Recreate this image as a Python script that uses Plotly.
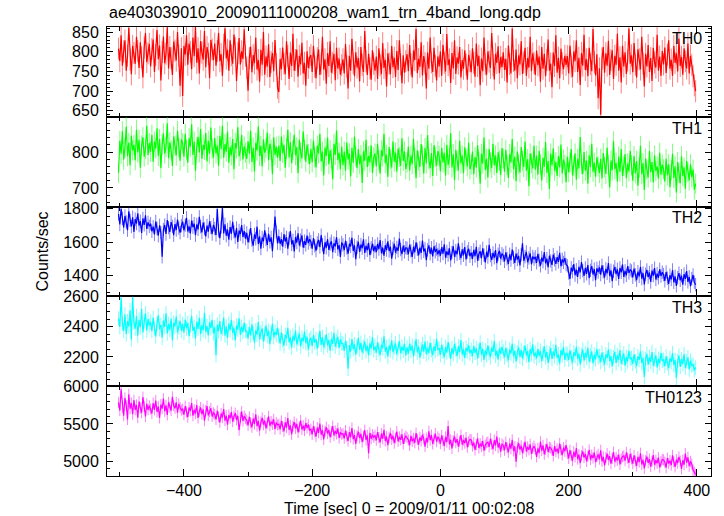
import plotly.graph_objects as go
from plotly.subplots import make_subplots

title_text = "ae403039010_20090111000208_wam1_trn_4band_long.qdp"
x_title = "Time [sec] 0 = 2009/01/11 00:02:08"
y_title = "Counts/sec"
band_names = ["TH0", "TH1", "TH2", "TH3", "TH0123"]
t_start = -502
t_step = 2

th0 = [808, 776, 842, 765, 801, 829, 752, 790, 861, 780, 743, 815, 797, 770, 838, 802, 759, 824, 786, 735, 811, 848, 774, 796, 820,
       763, 807, 831, 749, 792, 855, 781, 816, 727, 800, 839, 771, 795, 862, 758, 812, 784, 741, 826, 803, 778, 850, 790, 714, 809,
       688, 815, 793, 842, 767, 821, 800, 756, 836, 789, 864, 772, 809, 745, 827, 798, 780, 853, 761, 812, 795, 733, 830, 806, 779,
       821, 765, 802, 848, 776, 794, 739, 818, 860, 783, 805, 752, 829, 791, 770, 844, 810, 726, 797, 835, 768, 801, 782, 857, 790,
       760, 701, 784, 813, 748, 792, 771, 836, 755, 779, 724, 805, 767, 850, 742, 788, 763, 819, 736, 774, 797, 751, 830, 768, 709,
       698, 782, 756, 811, 770, 743, 827, 789, 731, 798, 764, 846, 752, 779, 806, 737, 790, 768, 823, 745, 772, 714, 801, 759, 785,
       792, 749, 815, 762, 733, 784, 806, 741, 770, 838, 755, 781, 719, 797, 764, 827, 747, 772, 795, 728, 810, 758, 783, 742, 766,
       781, 745, 820, 763, 707, 790, 752, 833, 771, 738, 799, 760, 784, 725, 812, 767, 749, 853, 776, 741, 795, 758, 729, 804, 770,
       752, 788, 731, 809, 766, 744, 822, 759, 780, 712, 796, 770, 743, 815, 761, 785, 736, 802, 754, 829, 768, 720, 791, 747, 776,
       794, 751, 817, 768, 735, 803, 779, 858, 746, 782, 762, 824, 740, 789, 771, 707, 798, 757, 836, 773, 749, 810, 765, 727, 788,
       763, 801, 739, 818, 772, 750, 845, 766, 781, 721, 797, 758, 829, 744, 786, 770, 812, 735, 779, 757, 804, 768, 729, 792, 776,
       748, 809, 772, 737, 821, 764, 790, 715, 783, 751, 836, 768, 742, 801, 775, 759, 848, 766, 730, 795, 772, 814, 746, 787, 761,
       799, 754, 782, 722, 816, 769, 745, 859, 777, 752, 806, 733, 791, 768, 827, 744, 773, 810, 739, 784, 760, 838, 751, 796, 772,
       741, 803, 766, 788, 724, 812, 757, 795, 738, 779, 831, 752, 770, 710, 798, 764, 842, 747, 785, 733, 808, 771, 756, 790, 767,
       789, 745, 816, 762, 737, 801, 776, 829, 749, 785, 716, 797, 765, 843, 754, 781, 738, 810, 769, 751, 858, 773, 740, 794, 682,
       758, 640, 783, 812, 747, 796, 765, 828, 741, 779, 804, 731, 790, 767, 846, 752, 786, 722, 815, 763, 799, 744, 778, 859, 770,
       791, 748, 822, 767, 735, 806, 781, 755, 838, 770, 712, 795, 763, 817, 749, 784, 726, 810, 773, 760, 843, 752, 788, 739, 802,
       768, 811, 746, 793, 829, 757, 780, 739, 815, 772, 796, 750, 834, 764, 787, 742, 809, 776, 758, 821, 745, 790, 767, 738, 715,
       700]

th1 = [742, 831, 795, 858, 779, 812, 870, 788, 826, 763, 845, 804, 820, 777, 862, 799, 834, 756, 818, 841, 787, 809, 873, 792, 825,
       801, 848, 773, 829, 810, 866, 789, 836, 755, 821, 852, 796, 814, 880, 783, 827, 805, 761, 843, 818, 790, 859, 812, 776, 835,
       824, 787, 851, 806, 770, 838, 815, 877, 792, 829, 748, 813, 842, 799, 864, 781, 820, 806, 853, 774, 831, 795, 868, 809, 785,
       839, 796, 818, 762, 845, 808, 873, 784, 822, 801, 857, 770, 814, 791, 836, 752, 825, 810, 869, 788, 803, 847, 779, 816, 798,
       781, 830, 795, 859, 772, 812, 746, 826, 804, 871, 789, 817, 760, 835, 798, 811, 854, 777, 823, 806, 738, 841, 792, 815, 784,
       818, 775, 843, 797, 820, 756, 810, 862, 785, 827, 769, 805, 848, 791, 813, 741, 834, 799, 782, 857, 806, 773, 821, 795, 766,
       809, 771, 832, 785, 757, 818, 796, 850, 774, 801, 735, 812, 789, 840, 766, 805, 781, 724, 823, 792, 860, 777, 798, 752, 815,
       763, 801, 748, 826, 779, 796, 732, 812, 770, 843, 787, 755, 808, 766, 791, 714, 802, 776, 834, 758, 789, 771, 819, 742, 785,
       796, 760, 823, 777, 740, 805, 788, 851, 769, 792, 731, 814, 780, 757, 829, 773, 798, 745, 810, 786, 762, 838, 775, 801, 752,
       771, 815, 748, 790, 766, 836, 783, 727, 804, 776, 758, 822, 791, 740, 811, 768, 847, 779, 755, 797, 733, 819, 786, 762, 802,
       789, 746, 812, 771, 798, 735, 820, 764, 783, 852, 757, 794, 722, 806, 775, 749, 831, 768, 790, 741, 813, 779, 760, 826, 752,
       765, 801, 738, 786, 757, 819, 773, 712, 795, 768, 840, 750, 782, 729, 808, 771, 755, 823, 763, 790, 742, 799, 776, 736, 811,
       782, 745, 806, 763, 728, 794, 771, 836, 752, 787, 719, 801, 766, 743, 814, 775, 758, 829, 748, 780, 705, 796, 769, 754, 817,
       751, 790, 737, 803, 766, 721, 784, 759, 828, 742, 775, 697, 796, 763, 810, 748, 772, 733, 789, 757, 821, 740, 779, 764, 716,
       787, 744, 771, 808, 735, 762, 796, 723, 781, 754, 842, 766, 739, 800, 748, 776, 712, 791, 758, 823, 745, 770, 731, 785, 760,
       742, 781, 726, 797, 758, 739, 812, 764, 701, 776, 749, 830, 752, 770, 718, 787, 745, 808, 733, 761, 794, 727, 768, 746, 803,
       763, 720, 789, 741, 775, 706, 756, 817, 738, 769, 694, 782, 751, 729, 803, 744, 772, 715, 790, 747, 760, 726, 798, 737, 765,
       752, 718, 781, 735, 766, 702, 749, 795, 728, 760, 687, 772, 741, 713, 788, 733, 757, 698, 775, 744, 721, 766, 730, 751, 695,
       712]

th2 = [1768, 1705, 1799, 1742, 1688, 1756, 1720, 1671, 1784, 1730, 1693, 1748, 1661, 1737, 1710, 1772, 1698, 1725, 1655, 1741, 1703, 1760, 1679, 1718, 1694,
       1710, 1664, 1692, 1646, 1723, 1681, 1638, 1700, 1657, 1512, 1675, 1702, 1648, 1731, 1686, 1660, 1719, 1694, 1641, 1707, 1672, 1735, 1683, 1656, 1698,
       1722, 1670, 1701, 1745, 1663, 1694, 1652, 1728, 1689, 1710, 1641, 1706, 1676, 1751, 1692, 1658, 1717, 1680, 1634, 1699, 1662, 1724, 1687, 1648, 1703,
       1681, 1642, 1798, 1667, 1623, 1690, 1805, 1652, 1706, 1638, 1675, 1614, 1689, 1650, 1721, 1661, 1628, 1684, 1600, 1669, 1647, 1702, 1631, 1666, 1620,
       1655, 1598, 1637, 1683, 1612, 1579, 1646, 1620, 1692, 1588, 1634, 1561, 1627, 1604, 1670, 1615, 1583, 1649, 1601, 1628, 1546, 1640, 1752, 1661, 1592,
       1635, 1590, 1618, 1572, 1647, 1603, 1628, 1560, 1621, 1666, 1586, 1611, 1544, 1630, 1597, 1652, 1579, 1612, 1640, 1566, 1605, 1583, 1638, 1594, 1617,
       1602, 1561, 1624, 1578, 1549, 1595, 1613, 1570, 1641, 1584, 1527, 1599, 1566, 1617, 1553, 1588, 1605, 1540, 1593, 1574, 1629, 1556, 1582, 1511, 1597,
       1583, 1552, 1608, 1565, 1531, 1589, 1574, 1626, 1547, 1580, 1498, 1569, 1602, 1541, 1585, 1563, 1616, 1535, 1577, 1551, 1595, 1522, 1566, 1590, 1545,
       1576, 1540, 1589, 1558, 1612, 1533, 1567, 1519, 1581, 1552, 1604, 1546, 1573, 1501, 1562, 1590, 1537, 1568, 1547, 1621, 1555, 1528, 1579, 1541, 1566,
       1563, 1527, 1584, 1548, 1511, 1572, 1539, 1598, 1556, 1520, 1567, 1535, 1609, 1544, 1561, 1492, 1553, 1580, 1530, 1566, 1514, 1575, 1542, 1558, 1526,
       1552, 1518, 1569, 1531, 1586, 1507, 1544, 1522, 1563, 1490, 1538, 1575, 1512, 1549, 1527, 1592, 1533, 1504, 1556, 1521, 1570, 1496, 1541, 1560, 1515,
       1537, 1499, 1553, 1516, 1571, 1488, 1529, 1545, 1503, 1562, 1522, 1478, 1541, 1510, 1583, 1519, 1494, 1535, 1506, 1552, 1473, 1527, 1548, 1501, 1531,
       1520, 1484, 1538, 1501, 1469, 1527, 1492, 1555, 1509, 1475, 1531, 1496, 1517, 1460, 1524, 1592, 1488, 1513, 1541, 1479, 1505, 1532, 1467, 1514, 1498,
       1512, 1476, 1529, 1491, 1458, 1507, 1483, 1540, 1472, 1501, 1449, 1518, 1487, 1463, 1525, 1494, 1470, 1509, 1481, 1536, 1455, 1497, 1478, 1504, 1466,
       1458, 1415, 1379, 1447, 1423, 1468, 1402, 1435, 1391, 1452, 1418, 1480, 1429, 1397, 1445, 1410, 1463, 1384, 1431, 1456, 1406, 1438, 1372, 1443, 1421,
       1449, 1405, 1461, 1422, 1388, 1440, 1413, 1475, 1397, 1431, 1366, 1426, 1452, 1408, 1437, 1380, 1445, 1419, 1466, 1392, 1428, 1401, 1456, 1415, 1434,
       1427, 1389, 1441, 1404, 1372, 1423, 1395, 1452, 1381, 1415, 1346, 1408, 1433, 1390, 1418, 1361, 1429, 1399, 1444, 1376, 1411, 1386, 1437, 1397, 1420,
       1405, 1368, 1421, 1384, 1350, 1402, 1376, 1433, 1359, 1395, 1338, 1387, 1414, 1371, 1399, 1345, 1408, 1380, 1426, 1362, 1392, 1336, 1381, 1403, 1360,
       1345]

th3 = [2455, 2398, 2592, 2420, 2372, 2481, 2350, 2436, 2402, 2508, 2315, 2596, 2428, 2387, 2470, 2341, 2445, 2396, 2517, 2362, 2431, 2488, 2375, 2450, 2409,
       2432, 2371, 2458, 2390, 2336, 2421, 2475, 2384, 2412, 2327, 2440, 2398, 2489, 2355, 2417, 2380, 2452, 2310, 2426, 2401, 2467, 2362, 2395, 2438, 2373,
       2418, 2360, 2447, 2389, 2425, 2338, 2406, 2471, 2372, 2399, 2320, 2433, 2385, 2458, 2351, 2410, 2377, 2492, 2366, 2404, 2343, 2429, 2391, 2446, 2357,
       2396, 2212, 2414, 2370, 2437, 2352, 2388, 2461, 2341, 2402, 2325, 2419, 2377, 2446, 2359, 2393, 2310, 2408, 2381, 2455, 2346, 2399, 2365, 2427, 2372,
       2371, 2322, 2398, 2340, 2416, 2358, 2294, 2375, 2347, 2430, 2316, 2363, 2389, 2301, 2352, 2407, 2338, 2372, 2285, 2359, 2420, 2331, 2366, 2344, 2393,
       2338, 2289, 2361, 2310, 2274, 2346, 2321, 2392, 2297, 2330, 2262, 2341, 2306, 2375, 2283, 2319, 2355, 2270, 2327, 2302, 2368, 2291, 2333, 2248, 2312,
       2326, 2271, 2344, 2295, 2318, 2255, 2309, 2372, 2280, 2331, 2264, 2297, 2350, 2276, 2312, 2241, 2320, 2287, 2359, 2268, 2304, 2333, 2259, 2315, 2290,
       2288, 2242, 2307, 2260, 2122, 2279, 2236, 2318, 2252, 2284, 2215, 2270, 2326, 2247, 2293, 2229, 2266, 2302, 2238, 2275, 2211, 2290, 2256, 2331, 2244,
       2270, 2228, 2296, 2249, 2213, 2281, 2257, 2337, 2236, 2265, 2202, 2276, 2244, 2310, 2231, 2262, 2290, 2219, 2253, 2304, 2225, 2268, 2241, 2287, 2210,
       2263, 2222, 2289, 2241, 2275, 2204, 2258, 2316, 2230, 2267, 2196, 2252, 2284, 2235, 2301, 2218, 2259, 2226, 2293, 2245, 2212, 2271, 2238, 2320, 2249,
       2255, 2213, 2280, 2236, 2198, 2265, 2229, 2298, 2241, 2187, 2259, 2220, 2286, 2247, 2205, 2270, 2232, 2311, 2216, 2251, 2193, 2262, 2238, 2279, 2224,
       2248, 2205, 2271, 2228, 2259, 2190, 2239, 2296, 2215, 2253, 2180, 2244, 2212, 2277, 2226, 2199, 2262, 2234, 2305, 2208, 2241, 2183, 2257, 2221, 2266,
       2236, 2197, 2260, 2215, 2178, 2249, 2223, 2288, 2206, 2240, 2171, 2231, 2263, 2201, 2245, 2189, 2227, 2276, 2210, 2238, 2166, 2252, 2218, 2283, 2204,
       2229, 2190, 2252, 2208, 2241, 2173, 2220, 2270, 2196, 2233, 2160, 2224, 2259, 2187, 2236, 2205, 2281, 2193, 2217, 2155, 2246, 2211, 2264, 2181, 2226,
       2218, 2181, 2243, 2199, 2162, 2231, 2206, 2267, 2188, 2222, 2150, 2213, 2249, 2176, 2227, 2195, 2260, 2170, 2209, 2236, 2157, 2215, 2184, 2254, 2198,
       2207, 2166, 2229, 2185, 2150, 2218, 2192, 2251, 2173, 2206, 2137, 2199, 2234, 2161, 2212, 2180, 2246, 2155, 2195, 2223, 2143, 2201, 2170, 2240, 2186,
       2193, 2154, 2217, 2172, 2139, 2205, 2180, 2238, 2160, 2194, 2068, 2187, 2221, 2149, 2199, 2167, 2232, 2142, 2183, 2211, 2131, 2189, 2158, 2227, 2174,
       2181, 2140, 2204, 2159, 2126, 2192, 2166, 2225, 2147, 2181, 2062, 2173, 2208, 2135, 2186, 2153, 2219, 2129, 2170, 2197, 2118, 2176, 2144, 2150, 2112,
       2130]

th0123 = [5790, 5680, 5965, 5720, 5610, 5850, 5745, 5560, 5900, 5705, 5780, 5630, 5820, 5690, 5755, 5585, 5800, 5715, 5650, 5860, 5735, 5600, 5770, 5690, 5745,
          5700, 5640, 5780, 5690, 5815, 5660, 5735, 5580, 5760, 5705, 5840, 5670, 5750, 5620, 5790, 5725, 5680, 5865, 5745, 5710, 5790, 5650, 5770, 5720, 5685,
          5700, 5625, 5740, 5660, 5590, 5720, 5675, 5780, 5610, 5690, 5640, 5755, 5580, 5670, 5720, 5630, 5695, 5545, 5680, 5740, 5615, 5665, 5710, 5600, 5650,
          5630, 5560, 5675, 5595, 5520, 5640, 5585, 5700, 5545, 5610, 5490, 5620, 5575, 5660, 5530, 5600, 5645, 5555, 5610, 5415, 5590, 5665, 5540, 5605, 5570,
          5550, 5480, 5595, 5515, 5455, 5570, 5500, 5630, 5470, 5540, 5410, 5525, 5580, 5490, 5545, 5440, 5515, 5600, 5475, 5530, 5495, 5560, 5430, 5520, 5485,
          5495, 5430, 5540, 5465, 5400, 5520, 5450, 5580, 5420, 5480, 5360, 5470, 5525, 5440, 5500, 5385, 5460, 5545, 5425, 5475, 5410, 5510, 5445, 5490, 5415,
          5430, 5360, 5470, 5395, 5330, 5450, 5380, 5505, 5355, 5415, 5290, 5400, 5455, 5370, 5420, 5320, 5395, 5470, 5345, 5405, 5365, 5440, 5310, 5385, 5360,
          5370, 5305, 5410, 5335, 5270, 5390, 5320, 5445, 5295, 5350, 5230, 5340, 5395, 5310, 5365, 5255, 5335, 5415, 5285, 5345, 5105, 5380, 5300, 5355, 5320,
          5345, 5280, 5390, 5315, 5250, 5370, 5300, 5420, 5270, 5330, 5215, 5320, 5375, 5290, 5340, 5240, 5310, 5395, 5265, 5325, 5285, 5360, 5230, 5305, 5335,
          5315, 5285, 5210, 5340, 5265, 5305, 5245, 5375, 5290, 5220, 5320, 5270, 5355, 5300, 5195, 5310, 5250, 5400, 5280, 5350, 5230, 5295, 5370, 5260, 5325,
          5300, 5235, 5345, 5270, 5205, 5325, 5255, 5470, 5225, 5285, 5170, 5275, 5330, 5245, 5295, 5195, 5265, 5350, 5220, 5280, 5240, 5315, 5185, 5260, 5290,
          5285, 5200, 5250, 5150, 5220, 5305, 5175, 5235, 5195, 5270, 5140, 5215, 5245, 5255, 5190, 5300, 5225, 5160, 5280, 5210, 5330, 5180, 5240, 5125, 5230,
          5210, 5145, 5255, 5180, 5115, 5235, 5165, 5285, 5135, 5195, 4990, 5185, 5240, 5155, 5205, 5105, 5175, 5260, 5130, 5190, 5150, 5225, 5095, 5170, 5200,
          5160, 5055, 5170, 5110, 5260, 5140, 5210, 5090, 5155, 5230, 5120, 5185, 5175, 5145, 5070, 5200, 5125, 5165, 5105, 5235, 5150, 5080, 5180, 5130, 5215,
          5100, 5035, 5145, 5070, 5005, 5125, 5055, 5175, 5025, 5085, 4970, 5075, 5130, 5045, 5095, 4995, 5065, 5150, 5020, 5080, 5040, 5115, 4985, 5060, 5090,
          5025, 5145, 4995, 5055, 4940, 5045, 5100, 5015, 5065, 4965, 5035, 5120, 4990, 5050, 5010, 5085, 4955, 5030, 5060, 5070, 5005, 5115, 5040, 4975, 5095,
          5030, 4965, 5075, 5000, 4935, 5055, 4985, 5105, 4955, 5015, 4900, 5005, 5060, 4975, 5025, 4925, 4995, 5080, 4950, 5010, 4970, 5045, 4915, 4990, 5020,
          5015, 4985, 4910, 5040, 4965, 5005, 4945, 5075, 4990, 4920, 5020, 4970, 5055, 5000, 4895, 5010, 4950, 5100, 4980, 5050, 4930, 4995, 4960, 4880, 4850,
          4820]

errors = [28, 28, 40, 48, 75]
series = [th0, th1, th2, th3, th0123]
colors = ["#ff0000", "#00ff00", "#0000ff", "#00ffff", "#ff00ff"]
err_colors = ["rgba(255,0,0,0.5)", "rgba(0,255,0,0.5)", "rgba(0,0,255,0.5)",
              "rgba(0,255,255,0.5)", "rgba(255,0,255,0.5)"]
y_ranges = [[635, 863], [648, 898], [1275, 1812], [2007, 2600], [4798, 6008]]
y_dticks = [50, 100, 200, 200, 500]
y_minor = [10, 20, 50, 50, 100]

FONT = "Liberation Sans, Arial, Helvetica, sans-serif"
FS = 16

fig = make_subplots(rows=5, cols=1, shared_xaxes=True, vertical_spacing=0)

for i, vals in enumerate(series):
    t = [t_start + t_step * k for k in range(len(vals))]
    fig.add_trace(go.Scatter(
        x=t, y=vals, mode="lines",
        line=dict(color=colors[i], width=1.2),
        error_y=dict(type="constant", value=errors[i], color=err_colors[i],
                     thickness=1, width=0),
        showlegend=False, hoverinfo="skip"), row=i + 1, col=1)
    fig.update_yaxes(range=y_ranges[i], dtick=y_dticks[i], row=i + 1, col=1,
                     minor=dict(ticks="inside", ticklen=3, dtick=y_minor[i], tickcolor="black"))
    fig.add_annotation(text=band_names[i], xref=f"x{'' if i == 0 else i + 1} domain",
                       yref=f"y{'' if i == 0 else i + 1} domain", x=0.988, y=0.99,
                       xanchor="right", yanchor="top", showarrow=False,
                       font=dict(size=FS, color="black", family=FONT))

fig.update_xaxes(range=[-520, 422], dtick=200, tick0=0, showline=True, linecolor="black",
                 linewidth=1, mirror="allticks", ticks="inside", ticklen=7, tickcolor="black",
                 showgrid=False, zeroline=False, automargin=False,
                 minor=dict(ticks="inside", ticklen=4, dtick=100, tickcolor="black"),
                 tickfont=dict(size=FS, family=FONT, color="black"))
fig.update_yaxes(showline=True, linecolor="black", linewidth=1, mirror="allticks",
                 ticks="inside", ticklen=6, tickcolor="black", showgrid=False, zeroline=False,
                 automargin=False, ticklabelstandoff=4,
                 tickfont=dict(size=FS, family=FONT, color="black"))

fig.add_annotation(text=title_text, xref="paper", yref="paper", x=0, y=1.0, yshift=3,
                   xanchor="left", yanchor="bottom", showarrow=False,
                   font=dict(size=FS, family=FONT, color="black"))
fig.add_annotation(text=x_title, xref="paper", yref="paper", x=0.5, y=-0.0713,
                   xanchor="center", yanchor="middle", showarrow=False,
                   font=dict(size=FS, family=FONT, color="black"))
fig.add_annotation(text=y_title, xref="paper", yref="paper", x=-0.1076, y=0.5,
                   textangle=-90, xanchor="center", yanchor="middle", showarrow=False,
                   font=dict(size=FS, family=FONT, color="black"))

fig.update_layout(width=724, height=516,
                  margin=dict(l=107, r=13, t=27, b=40, autoexpand=False),
                  plot_bgcolor="white", paper_bgcolor="white",
                  font=dict(family=FONT, color="black"))

fig.write_html("out.html", config={"displayModeBar": False},
               post_script="document.body.style.margin='0';document.body.style.overflow='hidden';")
